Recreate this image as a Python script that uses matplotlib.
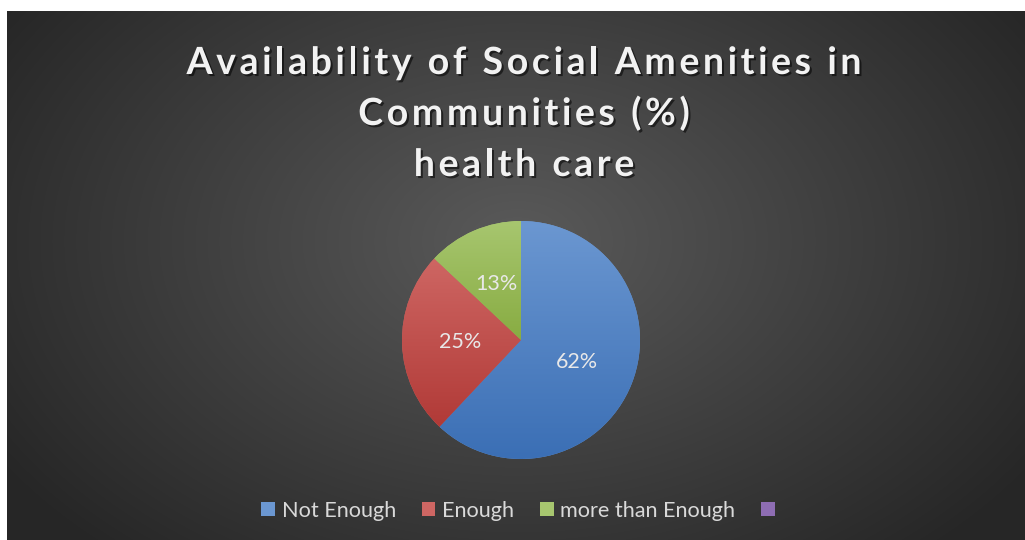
import matplotlib
matplotlib.use("Agg")
import matplotlib.pyplot as plt
import matplotlib.patheffects as pe
from matplotlib.colors import to_rgb
import numpy as np

# health care availability shares
categories = ["Not Enough", "Enough", "more than Enough", ""]
values = [62, 25, 13, 0]
title_lines = ["Availability of Social Amenities in", "Communities (%)", "health care"]

# top / bottom colour of each wedge's vertical gradient
tops = ["#6b97d1", "#ce6663", "#a7c66f", "#8e6db3"]
bottoms = ["#3b6fb5", "#b13a37", "#88ac42", "#7352a0"]

W, H = 1025, 540
fig = plt.figure(figsize=(W / 100, H / 100), dpi=100)
fig.patch.set_facecolor("white")

# dark chart area with a radial gradient
bg = fig.add_axes([7 / W, 0, (W - 7) / W, (H - 11) / H])
bg.set_axis_off()
yy, xx = np.mgrid[0:529, 0:1018]
r = np.sqrt(((xx - 510) / 620) ** 2 + ((yy - 230) / 420) ** 2)
t = np.clip(r, 0, 1)[..., None]
c_in = np.array(to_rgb("#5a5a5a"))
c_out = np.array(to_rgb("#262626"))
bg.imshow(c_in * (1 - t) + c_out * t, aspect="auto", interpolation="bilinear")

# title drawn letter by letter so it can be tracked out
renderer = fig.canvas.get_renderer()
title_style = dict(fontsize=27, fontweight="bold", family="Lato", color="#f2f2f2",
                   va="baseline", ha="left",
                   path_effects=[pe.SimplePatchShadow(offset=(1.5, -1.5), shadow_rgbFace="black",
                                                      alpha=0.55), pe.Normal()])
tracking = 3.6
for line, base in zip(title_lines, [74, 125, 176]):
    chars = [fig.text(0, 0, ch, **title_style) for ch in line]
    widths = []
    for ch, tx in zip(line, chars):
        if ch == " ":
            widths.append(9.0)
        else:
            widths.append(tx.get_window_extent(renderer).width)
    total = sum(widths) + tracking * (len(line) - 1)
    x = 524 - total / 2
    for tx, w in zip(chars, widths):
        tx.set_position((x / W, (H - base) / H))
        x += w + tracking

# pie axes: centre (521, 340), radius 119 px
cx, cy, rad = 521, 340, 119
ax = fig.add_axes([(cx - rad) / W, (H - cy - rad) / H, 2 * rad / W, 2 * rad / H])
wedges, _, autotexts = ax.pie(
    values, colors=tops, startangle=90, counterclock=False,
    autopct=lambda p: f"{p:.0f}%" if p > 0 else "", pctdistance=0.51,
    textprops=dict(color="#e8e8e8", fontsize=15.5, family="Lato"),
    wedgeprops=dict(linewidth=0))

for w, c1, c2 in zip(wedges, tops, bottoms):
    ext = w.get_path().get_extents()
    if ext.height <= 0 or ext.width <= 0:
        continue
    g = np.linspace(0, 1, 100)[:, None, None]
    img = np.array(to_rgb(c1)) * (1 - g) + np.array(to_rgb(c2)) * g
    im = ax.imshow(img, extent=[ext.x0, ext.x1, ext.y0, ext.y1], origin="upper",
                   aspect="auto", zorder=w.get_zorder() + 0.1)
    im.set_clip_path(w)
for txt in autotexts:
    txt.set_zorder(5)
ax.set_xlim(-1, 1)
ax.set_ylim(-1, 1)
ax.set_axis_off()

leg = fig.legend(wedges, categories, loc="center", bbox_to_anchor=(521.5 / W, (H - 511) / H),
                 ncol=4, frameon=False, handlelength=0.62, handleheight=0.62,
                 handletextpad=0.32, columnspacing=1.2, prop=dict(family="Lato", size=15.6))
for txt in leg.get_texts():
    txt.set_color("#d9d9d9")

fig.savefig("out.png", dpi=100, facecolor=fig.get_facecolor())
